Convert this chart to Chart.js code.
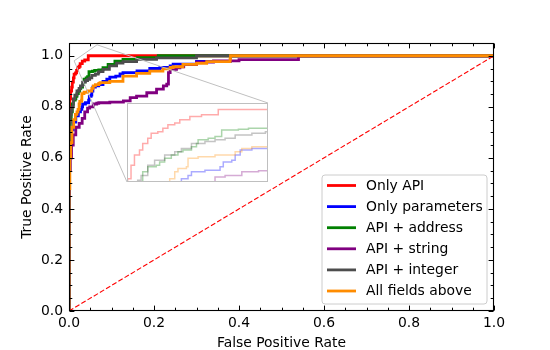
<!DOCTYPE html>
<html><head><meta charset="utf-8">
<script src="https://cdn.jsdelivr.net/npm/chart.js@4"></script>
<style>
html,body{margin:0;padding:0;background:#fff;}
#wrap{position:relative;width:550px;height:350px;overflow:hidden;}
#main{position:absolute;left:0;top:0;}
#inset{position:absolute;left:127px;top:103px;background:#fff;}
</style></head><body>
<div id="wrap"><canvas id="main" width="550" height="350"></canvas><canvas id="inset" width="141" height="79"></canvas></div>
<script>
// ---------- data ----------
const seriesNames = ["Only API", "Only parameters", "API + address", "API + string", "API + integer", "All fields above"];
const seriesColors = ["#ff0000", "#0000ff", "#008000", "#800080", "#4d4d4d", "#ff8c00"];

const apiFpr = [0,0,0.0003,0.002,0.0037,0.0062,0.0078,0.0103,0.012,0.0153,0.0178,0.0203,0.0237,0.0262,0.0312,0.037,0.0453,1.0];
const apiTpr = [0,0.76,0.79,0.831,0.862,0.877,0.897,0.913,0.928,0.933,0.943,0.954,0.959,0.969,0.979,0.984,1.0,1.0];

const paramFpr = [0,0,0.002,0.005,0.01,0.016,0.022,0.027,0.0303,0.032,0.0387,0.0462,0.0478,0.052,0.0537,0.0562,0.062,0.07,0.08,0.089,0.096,0.11,0.12,0.127,0.16,0.19,0.214,0.238,0.245,0.3,0.38,1.0];
const paramTpr = [0,0.55,0.66,0.71,0.74,0.765,0.78,0.79,0.80,0.811,0.816,0.826,0.841,0.846,0.862,0.877,0.882,0.887,0.9,0.908,0.916,0.92,0.929,0.934,0.941,0.95,0.954,0.96,0.967,0.978,1.0,1.0];

const addrFpr = [0,0,0.001,0.003,0.0053,0.0078,0.0103,0.0145,0.0162,0.0187,0.022,0.0253,0.0278,0.032,0.0345,0.0353,0.0403,0.0437,0.047,0.047,0.0553,0.0603,0.07,0.08,0.092,0.108,0.127,0.16,0.21,1.0];
const addrTpr = [0,0.62,0.70,0.75,0.78,0.811,0.826,0.831,0.841,0.852,0.862,0.872,0.877,0.887,0.897,0.908,0.913,0.918,0.923,0.938,0.940,0.943,0.945,0.953,0.966,0.979,0.986,0.993,1.0,1.0];

const stringFpr = [0,0,0.001,0.003,0.006,0.01,0.016,0.024,0.031,0.037,0.0437,0.0487,0.057,0.0653,0.07,0.096,0.128,0.144,0.159,0.183,0.206,0.222,0.23,0.234,0.238,0.253,0.261,0.27,0.3,0.34,0.4,0.54,1.0];
const stringTpr = [0,0.45,0.55,0.60,0.65,0.69,0.72,0.735,0.755,0.78,0.795,0.80,0.811,0.814,0.816,0.818,0.823,0.836,0.842,0.855,0.869,0.882,0.889,0.934,0.947,0.953,0.957,0.965,0.975,0.98,0.985,1.0,1.0];

const intFpr = [0,0,0.001,0.003,0.0053,0.007,0.0103,0.0137,0.0187,0.0237,0.027,0.032,0.0387,0.0437,0.0487,0.0537,0.062,0.0687,0.07,0.08,0.095,0.112,0.127,0.159,0.206,0.3,1.0];
const intTpr = [0,0.66,0.74,0.77,0.785,0.80,0.831,0.846,0.862,0.872,0.882,0.897,0.903,0.908,0.913,0.923,0.928,0.933,0.938,0.947,0.96,0.971,0.977,0.986,0.992,1.0,1.0];

const allFpr = [0,0,0.002,0.004,0.007,0.011,0.015,0.0187,0.0212,0.0237,0.0253,0.0295,0.0303,0.0353,0.0437,0.0537,0.057,0.062,0.07,0.073,0.096,0.127,0.159,0.19,0.221,0.238,0.245,0.268,0.3,0.324,0.379,0.38,1.0];
const allTpr = [0,0.48,0.60,0.66,0.72,0.75,0.77,0.78,0.79,0.811,0.821,0.826,0.852,0.857,0.862,0.872,0.882,0.887,0.892,0.895,0.9,0.92,0.931,0.94,0.949,0.954,0.957,0.966,0.97,0.977,0.987,1.0,1.0];

const chanceFpr = [0, 1];
const chanceTpr = [0, 1];

const xTicks = [0, 0.2, 0.4, 0.6, 0.8, 1.0];
const yTicks = [0, 0.2, 0.4, 0.6, 0.8, 1.0];
const xMinorStep = 0.05, yMinorStep = 0.05;
const xLabel = "False Positive Rate";
const yLabel = "True Positive Rate";

const insetX = [0, 0.07];
const insetY = [0.78, 1.02];
const markA = [0.066, 1.043];
const markB = [0.012, 0.98];

const seriesFpr = [apiFpr, paramFpr, addrFpr, stringFpr, intFpr, allFpr];
const seriesTpr = [apiTpr, paramTpr, addrTpr, stringTpr, intTpr, allTpr];

// ---------- build ----------
const FONT = "'DejaVu Sans', sans-serif";
const FS = 13.9;
function pts(xs, ys){ return xs.map((x,i)=>({x:x, y:ys[i]})); }
function rgba(hex, a){
  const n = parseInt(hex.slice(1),16);
  return `rgba(${(n>>16)&255},${(n>>8)&255},${n&255},${a})`;
}

const mainSets = seriesNames.map((name,i)=>({
  label: name, data: pts(seriesFpr[i], seriesTpr[i]),
  borderColor: seriesColors[i], backgroundColor: seriesColors[i],
  borderWidth: 2.8, pointRadius: 0, stepped: 'before', fill: false,
  order: seriesNames.length - i
}));
mainSets.push({
  label: "chance", data: pts(chanceFpr, chanceTpr),
  borderColor: "#ff0000", borderWidth: 1.1, borderDash: [5, 2.2],
  pointRadius: 0, fill: false, order: -1
});

const insetEl = document.getElementById('inset');

const framePlugin = {
  id: 'frame',
  afterDatasetsDraw(chart){
    const ctx = chart.ctx, a = chart.chartArea;
    const xs = chart.scales.x, ys = chart.scales.y;
    ctx.save();
    const ax = xs.getPixelForValue(markA[0]), ay = ys.getPixelForValue(markA[1]);
    const bx = xs.getPixelForValue(markB[0]), by = ys.getPixelForValue(markB[1]);
    const iL = insetEl.offsetLeft, iT = insetEl.offsetTop;
    const iR = iL + insetEl.width, iB = iT + insetEl.height;
    ctx.strokeStyle = '#c0c0c0'; ctx.lineWidth = 1;
    ctx.beginPath();
    ctx.moveTo(iR, iT); ctx.lineTo(ax, ay); ctx.lineTo(bx, by); ctx.lineTo(iL, iB);
    ctx.stroke();
    const L = Math.round(a.left)+0.5, R = Math.round(a.right)-0.5, T = Math.round(a.top)+0.5, B = Math.round(a.bottom)-0.5;
    ctx.strokeStyle = '#000'; ctx.lineWidth = 1.1;
    ctx.strokeRect(L, T, R-L, B-T);
    ctx.lineWidth = 1;
    ctx.beginPath();
    for (let v = 0; v <= 1.0001; v += xMinorStep){
      const major = xTicks.some(t=>Math.abs(t-v)<1e-6);
      const len = major ? 4.9 : 2.8;
      const p = Math.round(xs.getPixelForValue(v)) + 0.5;
      ctx.moveTo(p, B); ctx.lineTo(p, B-len);
      ctx.moveTo(p, T); ctx.lineTo(p, T+len);
    }
    for (let v = 0; v <= 1.0501; v += yMinorStep){
      const major = yTicks.some(t=>Math.abs(t-v)<1e-6);
      const len = major ? 4.9 : 2.8;
      const p = Math.round(ys.getPixelForValue(v)) + 0.5;
      ctx.moveTo(L, p); ctx.lineTo(L+len, p);
      ctx.moveTo(R, p); ctx.lineTo(R-len, p);
    }
    ctx.stroke();
    ctx.restore();
  },
  afterDraw(chart){
    const ctx = chart.ctx;
    ctx.save();
    const bx = 322, by = 175, bw = 165, bh = 129, r = 3;
    ctx.beginPath();
    ctx.moveTo(bx+r, by); ctx.lineTo(bx+bw-r, by); ctx.arcTo(bx+bw, by, bx+bw, by+r, r);
    ctx.lineTo(bx+bw, by+bh-r); ctx.arcTo(bx+bw, by+bh, bx+bw-r, by+bh, r);
    ctx.lineTo(bx+r, by+bh); ctx.arcTo(bx, by+bh, bx, by+bh-r, r);
    ctx.lineTo(bx, by+r); ctx.arcTo(bx, by, bx+r, by, r);
    ctx.closePath();
    ctx.fillStyle = 'rgba(255,255,255,0.8)'; ctx.fill();
    ctx.strokeStyle = '#cccccc'; ctx.lineWidth = 1; ctx.stroke();
    ctx.font = `${FS}px ${FONT}`;
    ctx.textBaseline = 'middle'; ctx.textAlign = 'left';
    seriesNames.forEach((name,i)=>{
      const y = 185.5 + i*21.1;
      ctx.strokeStyle = seriesColors[i]; ctx.lineWidth = 2.8;
      ctx.beginPath(); ctx.moveTo(327, y); ctx.lineTo(356, y); ctx.stroke();
      ctx.fillStyle = '#000';
      ctx.fillText(name, 366, y+0.5);
    });
    ctx.restore();
  }
};

new Chart(document.getElementById('main'), {
  type: 'line',
  data: { datasets: mainSets },
  options: {
    responsive: false, animation: false, devicePixelRatio: 1,
    layout: { padding: { left: 0, top: 43, right: 56, bottom: 0 } },
    plugins: { legend: { display: false }, tooltip: { enabled: false } },
    scales: {
      x: {
        type: 'linear', min: 0, max: 1,
        grid: { display: false, drawTicks: false }, border: { display: false },
        afterBuildTicks: s => { s.ticks = xTicks.map(v=>({value:v})); },
        afterFit: s => { s.height = 39; },
        ticks: { padding: 4, color: '#000', font: { family: FONT, size: FS }, maxRotation: 0, callback: v => Number(v).toFixed(1) },
        title: { display: true, text: xLabel, color: '#000', font: { family: FONT, size: FS }, padding: { top: 0, bottom: -1.5 } }
      },
      y: {
        type: 'linear', min: 0, max: 1.05,
        grid: { display: false, drawTicks: false }, border: { display: false },
        afterBuildTicks: s => { s.ticks = yTicks.map(v=>({value:v})); },
        afterFit: s => { s.width = 69; },
        ticks: { padding: 6, color: '#000', font: { family: FONT, size: FS }, callback: v => Number(v).toFixed(1) },
        title: { display: true, text: yLabel, color: '#000', font: { family: FONT, size: FS }, padding: { top: 19, bottom: 0 } }
      }
    }
  },
  plugins: [framePlugin]
});

const insetSets = seriesNames.map((name,i)=>({
  label: name, data: pts(seriesFpr[i], seriesTpr[i]),
  borderColor: rgba(seriesColors[i], 0.33), borderWidth: 1.5,
  pointRadius: 0, stepped: 'before', fill: false, order: seriesNames.length - i
}));
const insetFrame = {
  id: 'insetFrame',
  beforeDraw(chart){ const c = chart.ctx; c.save(); c.fillStyle = '#fff'; c.fillRect(0,0,chart.width,chart.height); c.restore(); },
  afterDraw(chart){
    const c = chart.ctx; c.save(); c.strokeStyle = '#bfbfbf'; c.lineWidth = 1;
    c.strokeRect(0.5, 0.5, chart.width-1, chart.height-1); c.restore();
  }
};
new Chart(insetEl, {
  type: 'line',
  data: { datasets: insetSets },
  options: {
    responsive: false, animation: false, devicePixelRatio: 1,
    layout: { padding: 0 },
    plugins: { legend: { display: false }, tooltip: { enabled: false } },
    scales: {
      x: { type: 'linear', display: false, min: insetX[0], max: insetX[1] },
      y: { type: 'linear', display: false, min: insetY[0], max: insetY[1] }
    }
  },
  plugins: [insetFrame]
});
</script>
</body></html>
